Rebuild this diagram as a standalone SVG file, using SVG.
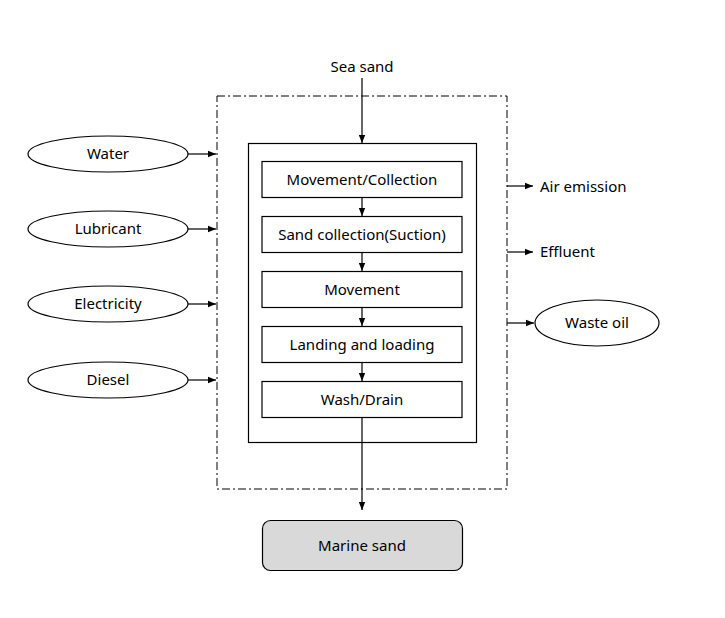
<svg xmlns="http://www.w3.org/2000/svg" width="725" height="618" viewBox="0 0 725 618">
<style>
text{font-family:"Noto Sans","Liberation Sans",sans-serif;font-size:15px;fill:#000}
.c{text-anchor:middle;dominant-baseline:central}
.l{dominant-baseline:central}
.box{fill:#fff;stroke:#000;stroke-width:1.2}
.ln{stroke:#000;stroke-width:1.2;fill:none}
</style>
<defs>
<marker id="ah" viewBox="0 0 10 10" refX="10" refY="5" markerWidth="8" markerHeight="8" markerUnits="userSpaceOnUse" orient="auto">
<path d="M0,1 L10,5 L0,9 Z" fill="#000"/>
</marker>
</defs>
<rect width="725" height="618" fill="#fff"/>
<g id="boundary"><rect x="217" y="96" width="290" height="393" fill="none" stroke="#000" stroke-width="1" stroke-dasharray="8 3 2 3"/></g>
<g id="process"><rect class="box" x="248.5" y="143.5" width="228" height="299"/></g>
<g id="seasand"><text class="c" x="362" y="66">Sea sand</text></g>
<g id="n1"><rect class="box" x="262" y="161.5" width="200" height="36"/><text class="c" x="362" y="178.5">Movement/Collection</text></g>
<g id="n2"><rect class="box" x="262" y="216.5" width="200" height="36"/><text class="c" x="362" y="233.5">Sand collection(Suction)</text></g>
<g id="n3"><rect class="box" x="262" y="271.5" width="200" height="36"/><text class="c" x="362" y="288.5">Movement</text></g>
<g id="n4"><rect class="box" x="262" y="326.5" width="200" height="36"/><text class="c" x="362" y="343.5">Landing and loading</text></g>
<g id="n5"><rect class="box" x="262" y="381.5" width="200" height="36"/><text class="c" x="362" y="398.5">Wash/Drain</text></g>
<g id="marine"><rect x="262.5" y="520.5" width="200" height="50" rx="8" fill="#d9d9d9" stroke="#000" stroke-width="1.2"/><text class="c" x="362" y="544.5">Marine sand</text></g>
<g id="water"><ellipse class="box" cx="108" cy="154" rx="80" ry="18"/><text class="c" x="108" y="153">Water</text></g>
<g id="lubricant"><ellipse class="box" cx="108" cy="229" rx="80" ry="18"/><text class="c" x="108" y="228">Lubricant</text></g>
<g id="electricity"><ellipse class="box" cx="108" cy="304" rx="80" ry="18"/><text class="c" x="108" y="303">Electricity</text></g>
<g id="diesel"><ellipse class="box" cx="108" cy="380" rx="80" ry="18"/><text class="c" x="108" y="379">Diesel</text></g>
<g id="air"><text class="l" x="540" y="185.5">Air emission</text></g>
<g id="effluent"><text class="l" x="540" y="250.5">Effluent</text></g>
<g id="wasteoil"><ellipse class="box" cx="597" cy="323" rx="62" ry="23"/><text class="c" x="597" y="322">Waste oil</text></g>
<g id="connectors">
<line class="ln" x1="362" y1="78" x2="362" y2="143" marker-end="url(#ah)"/>
<line class="ln" x1="362" y1="198" x2="362" y2="216" marker-end="url(#ah)"/>
<line class="ln" x1="362" y1="253" x2="362" y2="271" marker-end="url(#ah)"/>
<line class="ln" x1="362" y1="308" x2="362" y2="326" marker-end="url(#ah)"/>
<line class="ln" x1="362" y1="363" x2="362" y2="381" marker-end="url(#ah)"/>
<line class="ln" x1="362" y1="418" x2="362" y2="510" marker-end="url(#ah)"/>
<line class="ln" x1="188" y1="154" x2="216" y2="154" marker-end="url(#ah)"/>
<line class="ln" x1="188" y1="229" x2="216" y2="229" marker-end="url(#ah)"/>
<line class="ln" x1="188" y1="304" x2="216" y2="304" marker-end="url(#ah)"/>
<line class="ln" x1="188" y1="380" x2="216" y2="380" marker-end="url(#ah)"/>
<line class="ln" x1="507" y1="186" x2="533" y2="186" marker-end="url(#ah)"/>
<line class="ln" x1="507" y1="252" x2="533" y2="252" marker-end="url(#ah)"/>
<line class="ln" x1="507" y1="323" x2="534" y2="323" marker-end="url(#ah)"/>
</g>
</svg>
